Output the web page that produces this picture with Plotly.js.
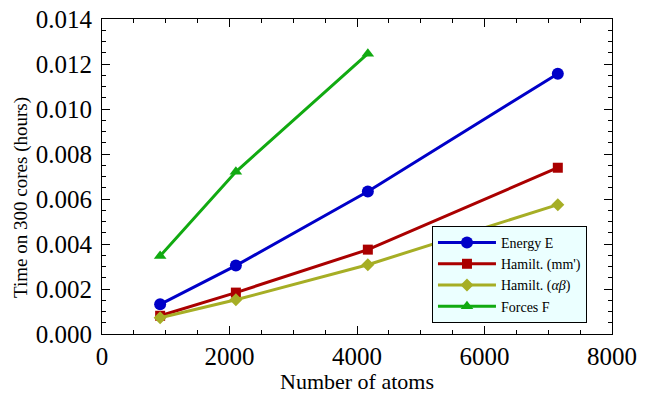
<!DOCTYPE html>
<html>
<head>
<meta charset="utf-8">
<script src="https://cdn.plot.ly/plotly-3.0.1.min.js"></script>
<style>body{margin:0;padding:0;background:#fff}#chart{width:649px;height:394px}</style>
</head>
<body>
<div id="chart"></div>
<script>
const atoms = [912, 2100, 4170, 7150];
const energyE = [0.00132, 0.00304, 0.00633, 0.01157];
const hamiltMM = [0.00081, 0.00184, 0.00375, 0.00739];
const hamiltAB = [0.00072, 0.00152, 0.00308, 0.00575];
const atomsF = [912, 2100, 4170];
const forcesF = [0.00347, 0.00721, 0.01246];
const seriesNames = ["Energy E", "Hamilt. (mm')", "Hamilt. (<i>αβ</i>)", "Forces F"];
const xTitle = 'Number of atoms';
const yTitle = 'Time on 300 cores (hours)';

const serif = "Liberation Serif";
function tr(x, y, name, color, symbol, size) {
  return {x: x, y: y, name: name, type: 'scatter', mode: 'lines+markers',
    line: {color: color, width: 3},
    marker: {color: color, symbol: symbol, size: size}};
}
const data = [
  tr(atoms, energyE, seriesNames[0], '#0000c8', 'circle', 12),
  tr(atoms, hamiltMM, seriesNames[1], '#aa0000', 'square', 10),
  tr(atoms, hamiltAB, seriesNames[2], '#a6ae25', 'diamond', 10),
  tr(atomsF, forcesF, seriesNames[3], '#11aa11', 'triangle-up', 11)
];
const axisCommon = {
  showgrid: false, zeroline: false, showline: true, mirror: 'ticks',
  linecolor: '#000', linewidth: 1, ticks: 'inside', ticklen: 8, tickcolor: '#000',
  tickfont: {family: serif, size: 25, color: '#000'}
};
const layout = {
  width: 649, height: 394,
  margin: {l: 102, r: 37, t: 19, b: 60},
  paper_bgcolor: '#fff', plot_bgcolor: '#fff',
  font: {family: serif, color: '#000'},
  showlegend: true,
  xaxis: Object.assign({}, axisCommon, {
    range: [0, 8000], tickvals: [0, 2000, 4000, 6000, 8000],
    ticktext: ['0', '2000', '4000', '6000', '8000'],
    minor: {dtick: 500, tick0: 0, ticks: 'inside', ticklen: 4, tickcolor: '#000'},
    title: {text: xTitle, font: {family: serif, size: 22}, standoff: 8}
  }),
  yaxis: Object.assign({}, axisCommon, {
    range: [0, 0.014], tickvals: [0, 0.002, 0.004, 0.006, 0.008, 0.010, 0.012, 0.014],
    ticktext: ['0.000', '0.002', '0.004', '0.006', '0.008', '0.010', '0.012', '0.014'],
    ticklabelstandoff: 4,
    minor: {dtick: 0.0005, tick0: 0, ticks: 'inside', ticklen: 4, tickcolor: '#000'}
  }),
  annotations: [{
    text: yTitle, xref: 'paper', yref: 'paper', x: -0.159, y: 0.435,
    xanchor: 'center', yanchor: 'middle', textangle: -90, showarrow: false,
    font: {family: serif, size: 19, color: '#000'}
  }],
  legend: {
    x: 0.647, y: 0.035, xanchor: 'left', yanchor: 'bottom',
    bgcolor: '#ebffff', bordercolor: '#000', borderwidth: 1,
    font: {family: serif, size: 14, color: '#000'},
    tracegroupgap: 0, itemwidth: 58,
    traceorder: 'normal'
  }
};
Plotly.newPlot('chart', data, layout, {displayModeBar: false, staticPlot: true});
</script>
</body>
</html>
